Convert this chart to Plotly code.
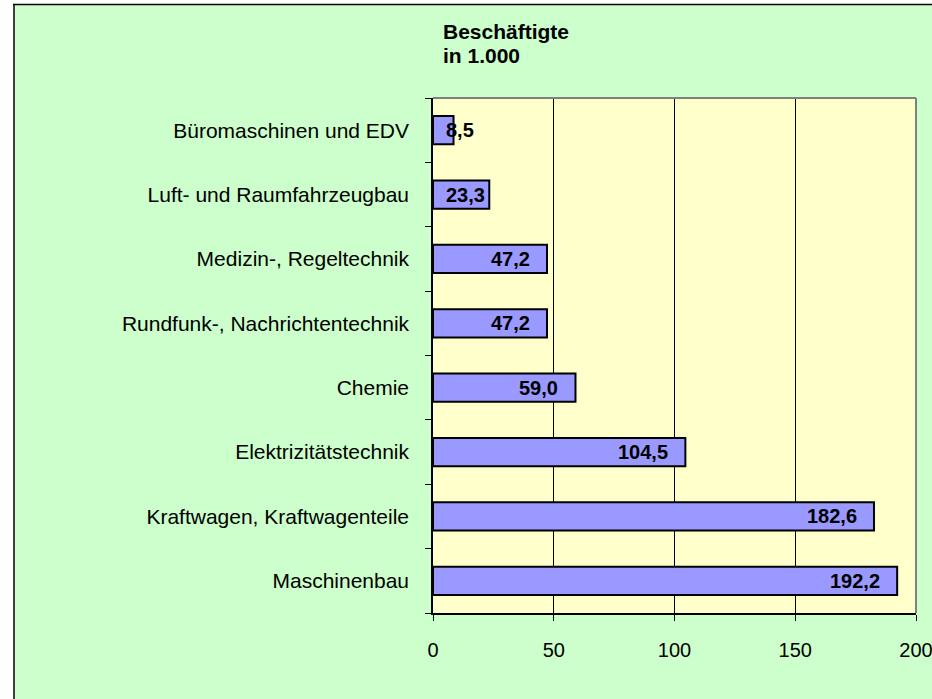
import plotly.graph_objects as go

# Data (bottom to top, as in the chart)
categories = [
    "Maschinenbau",
    "Kraftwagen, Kraftwagenteile",
    "Elektrizitätstechnik",
    "Chemie",
    "Rundfunk-, Nachrichtentechnik",
    "Medizin-, Regeltechnik",
    "Luft- und Raumfahrzeugbau",
    "Büromaschinen und EDV",
]
values = [192.2, 182.6, 104.5, 59.0, 47.2, 47.2, 23.3, 8.5]
x_ticks = [0, 50, 100, 150, 200]
title_lines = ["Beschäftigte", "in 1.000"]

FONT = "Liberation Sans, Arial, sans-serif"
W, H = 932, 699
L, R, T, B = 433, 16, 98, 86
pw, ph = W - L - R, H - T - B

def px_x(p):
    return (p - L) / pw

def px_y(p):
    return (H - B - p) / ph

labels = [f"{v:.1f}".replace(".", ",") for v in values]

fig = go.Figure()
fig.add_trace(go.Bar(
    y=categories, x=values, orientation="h",
    width=0.44,
    marker=dict(color="#9999FF", line=dict(color="#000000", width=2)),
    hoverinfo="x+y",
))

annotations = []
for c, v, t in zip(categories, values, labels):
    if v >= 30:
        annotations.append(dict(x=v, y=c, xref="x", yref="y", text=f"<b>{t}</b>",
                                showarrow=False, xanchor="right", xshift=-15,
                                font=dict(family=FONT, size=20, color="#000000")))
    else:
        annotations.append(dict(x=0, y=c, xref="x", yref="y", text=f"<b>{t}</b>",
                                showarrow=False, xanchor="left", xshift=11,
                                font=dict(family=FONT, size=20, color="#000000")))

for i, line in enumerate(title_lines):
    annotations.append(dict(x=px_x(441), y=px_y(18 + 24 * i), xref="paper", yref="paper",
                            text=f"<b>{line}</b>", showarrow=False,
                            xanchor="left", yanchor="top", align="left",
                            font=dict(family=FONT, size=21, color="#000000")))

NOLINE = dict(width=0, color="rgba(0,0,0,0)")
shapes = [
    # white strip on the left of the chart area
    dict(type="rect", xref="paper", yref="paper", layer="below",
         x0=px_x(-50), x1=px_x(13), y0=px_y(760), y1=px_y(-50),
         fillcolor="#FFFFFF", line=NOLINE),
    # white strip above the chart area
    dict(type="rect", xref="paper", yref="paper", layer="below",
         x0=px_x(-50), x1=px_x(1000), y0=px_y(4), y1=px_y(-50),
         fillcolor="#FFFFFF", line=NOLINE),
    # plot area background
    dict(type="rect", xref="paper", yref="paper", layer="below",
         x0=0, x1=1, y0=0, y1=1,
         fillcolor="#FFFFCC", line=NOLINE),
    # left border of chart area
    dict(type="line", xref="paper", yref="paper", layer="below",
         x0=px_x(14), x1=px_x(14), y0=px_y(4), y1=px_y(760),
         line=dict(color="#404040", width=2)),
    # top border of chart area
    dict(type="line", xref="paper", yref="paper", layer="below",
         x0=px_x(13), x1=px_x(1000), y0=px_y(4.5), y1=px_y(4.5),
         line=dict(color="#000000", width=1.5)),
    # plot area gray border (top, right)
    dict(type="line", xref="paper", yref="paper", layer="above",
         x0=0, x1=1, y0=1, y1=1, line=dict(color="#808080", width=2)),
    dict(type="line", xref="paper", yref="paper", layer="above",
         x0=1, x1=1, y0=0, y1=1, line=dict(color="#808080", width=2)),
]

fig.update_layout(
    width=W, height=H,
    margin=dict(l=L, r=R, t=T, b=B, pad=0, autoexpand=False),
    paper_bgcolor="#CCFFCC",
    plot_bgcolor="#FFFFCC",
    showlegend=False,
    font=dict(family=FONT, size=20, color="#000000"),
    annotations=annotations,
    shapes=shapes,
    bargap=0.56,
)
fig.update_xaxes(
    range=[0, 200], tickvals=x_ticks, ticktext=[str(v) for v in x_ticks],
    showgrid=True, gridcolor="#000000", gridwidth=1,
    showline=True, linecolor="#000000", linewidth=1.5,
    ticks="outside", ticklen=6, tickcolor="#000000", tickwidth=1,
    ticklabelstandoff=12, zeroline=False, automargin=False,
    ticklabeloverflow="allow",
    tickfont=dict(family=FONT, size=20, color="#000000"),
)
fig.update_yaxes(
    type="category", categoryorder="array", categoryarray=categories,
    range=[-0.5, len(categories) - 0.5],
    showgrid=False, automargin=False,
    showline=True, linecolor="#000000", linewidth=1.5,
    ticks="outside", tickson="boundaries", ticklen=6, tickcolor="#000000", tickwidth=1,
    ticklabelstandoff=18,
    tickfont=dict(family=FONT, size=21, color="#000000"),
)

fig.write_html(
    "out.html",
    config={"displayModeBar": False},
    post_script=(
        "document.body.style.margin='0';"
        "document.body.style.overflow='hidden';"
        "document.documentElement.style.overflow='hidden';"
    ),
)
